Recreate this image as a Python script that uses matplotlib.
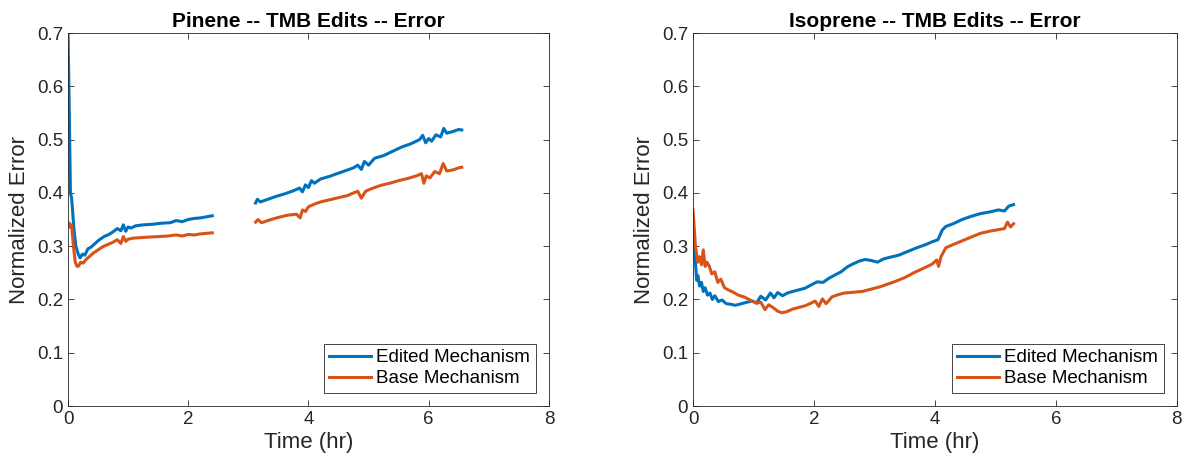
import matplotlib.pyplot as plt

plt.rcParams['font.family'] = ['Liberation Sans', 'DejaVu Sans']

# Pinene -- edited mechanism (two segments with gap)
pin_t_ed1 = [0.0, 0.02, 0.04, 0.06, 0.08, 0.10, 0.13, 0.17, 0.20, 0.24, 0.28, 0.33, 0.38,
             0.45, 0.52, 0.60, 0.68, 0.75, 0.82, 0.88, 0.92, 0.96, 1.00, 1.05, 1.12,
             1.25, 1.40, 1.55, 1.70, 1.80, 1.90, 2.00, 2.10, 2.20, 2.30, 2.40]
pin_e_ed1 = [0.70, 0.56, 0.40, 0.39, 0.36, 0.33, 0.30, 0.285, 0.278, 0.285, 0.283, 0.295, 0.298,
             0.305, 0.312, 0.318, 0.322, 0.327, 0.333, 0.329, 0.340, 0.328, 0.336, 0.334, 0.338,
             0.340, 0.341, 0.343, 0.344, 0.348, 0.346, 0.350, 0.352, 0.353, 0.355, 0.357]
pin_t_ed2 = [3.12, 3.15, 3.20, 3.30, 3.45, 3.60, 3.75, 3.85, 3.90, 3.95, 4.00, 4.05, 4.10,
             4.20, 4.35, 4.50, 4.65, 4.75, 4.82, 4.88, 4.93, 5.00, 5.10, 5.25, 5.40,
             5.55, 5.70, 5.85, 5.90, 5.95, 6.00, 6.05, 6.12, 6.20, 6.25, 6.30, 6.40, 6.50, 6.55]
pin_e_ed2 = [0.381, 0.388, 0.383, 0.387, 0.393, 0.398, 0.404, 0.409, 0.402, 0.415, 0.410, 0.423, 0.418,
             0.426, 0.431, 0.437, 0.443, 0.447, 0.452, 0.444, 0.459, 0.452, 0.465, 0.470, 0.478,
             0.486, 0.492, 0.500, 0.508, 0.494, 0.502, 0.497, 0.509, 0.505, 0.521, 0.512, 0.515, 0.519, 0.518]

# Pinene -- base mechanism
pin_t_b1 = [0.02, 0.04, 0.06, 0.09, 0.12, 0.15, 0.18, 0.21, 0.25, 0.30, 0.35, 0.42, 0.50,
            0.58, 0.66, 0.74, 0.82, 0.88, 0.92, 0.96, 1.00, 1.08, 1.20, 1.35, 1.50,
            1.65, 1.80, 1.90, 2.00, 2.10, 2.20, 2.30, 2.40]
pin_e_b1 = [0.343, 0.335, 0.340, 0.30, 0.27, 0.262, 0.263, 0.270, 0.268, 0.275, 0.280, 0.287, 0.293,
            0.299, 0.303, 0.307, 0.312, 0.305, 0.318, 0.309, 0.313, 0.315, 0.316, 0.317, 0.318,
            0.319, 0.321, 0.319, 0.322, 0.321, 0.323, 0.324, 0.325]
pin_t_b2 = [3.12, 3.16, 3.22, 3.35, 3.50, 3.65, 3.80, 3.86, 3.90, 3.95, 4.00, 4.10, 4.20,
            4.35, 4.50, 4.65, 4.75, 4.82, 4.88, 4.95, 5.05, 5.20, 5.35, 5.50, 5.65,
            5.80, 5.88, 5.92, 5.96, 6.02, 6.10, 6.18, 6.24, 6.30, 6.40, 6.50, 6.55]
pin_e_b2 = [0.345, 0.350, 0.344, 0.349, 0.354, 0.358, 0.360, 0.353, 0.368, 0.365, 0.374, 0.379, 0.383,
            0.387, 0.391, 0.395, 0.400, 0.403, 0.390, 0.403, 0.408, 0.414, 0.418, 0.423, 0.427,
            0.432, 0.436, 0.418, 0.432, 0.428, 0.440, 0.436, 0.455, 0.441, 0.443, 0.447, 0.448]

# Isoprene -- edited mechanism
iso_t_ed = [0.0, 0.02, 0.04, 0.06, 0.08, 0.11, 0.14, 0.17, 0.20, 0.24, 0.28, 0.32, 0.36,
            0.42, 0.48, 0.55, 0.62, 0.70, 0.80, 0.90, 0.98, 1.05, 1.12, 1.20, 1.28,
            1.34, 1.40, 1.48, 1.56, 1.65, 1.75, 1.85, 1.95, 2.05, 2.15, 2.25, 2.35,
            2.45, 2.55, 2.65, 2.75, 2.85, 2.95, 3.05, 3.15, 3.25, 3.40, 3.55, 3.70,
            3.85, 3.95, 4.05, 4.12, 4.18, 4.30, 4.45, 4.60, 4.75, 4.90, 5.05, 5.15, 5.22, 5.30]
iso_e_ed = [0.345, 0.30, 0.27, 0.236, 0.245, 0.225, 0.232, 0.215, 0.222, 0.208, 0.212, 0.200, 0.207,
            0.196, 0.199, 0.192, 0.191, 0.189, 0.192, 0.195, 0.197, 0.193, 0.206, 0.199, 0.212,
            0.203, 0.213, 0.207, 0.212, 0.215, 0.218, 0.221, 0.227, 0.233, 0.232, 0.240, 0.246,
            0.252, 0.261, 0.267, 0.272, 0.275, 0.273, 0.270, 0.276, 0.279, 0.283, 0.290, 0.297,
            0.303, 0.308, 0.312, 0.330, 0.337, 0.342, 0.350, 0.356, 0.361, 0.364, 0.368, 0.366, 0.375, 0.378]

# Isoprene -- base mechanism
iso_t_b = [0.0, 0.02, 0.04, 0.06, 0.08, 0.11, 0.14, 0.17, 0.20, 0.23, 0.27, 0.31, 0.36,
           0.41, 0.46, 0.52, 0.58, 0.66, 0.75, 0.86, 0.96, 1.06, 1.12, 1.19, 1.25,
           1.32, 1.40, 1.47, 1.55, 1.65, 1.75, 1.85, 1.95, 2.02, 2.08, 2.14, 2.20,
           2.30, 2.40, 2.50, 2.60, 2.70, 2.80, 2.90, 3.00, 3.10, 3.20, 3.35, 3.50,
           3.65, 3.80, 3.95, 4.03, 4.06, 4.10, 4.18, 4.30, 4.45, 4.60, 4.75, 4.90,
           5.05, 5.15, 5.20, 5.25, 5.30]
iso_e_b = [0.368, 0.335, 0.30, 0.285, 0.270, 0.280, 0.265, 0.293, 0.262, 0.270, 0.262, 0.248, 0.252,
           0.232, 0.238, 0.222, 0.218, 0.214, 0.208, 0.204, 0.198, 0.193, 0.195, 0.181, 0.190,
           0.185, 0.178, 0.175, 0.177, 0.182, 0.185, 0.188, 0.193, 0.197, 0.187, 0.201, 0.192,
           0.205, 0.209, 0.212, 0.213, 0.214, 0.215, 0.218, 0.221, 0.224, 0.228, 0.234, 0.241,
           0.250, 0.258, 0.266, 0.274, 0.262, 0.280, 0.297, 0.303, 0.310, 0.317, 0.324, 0.328,
           0.331, 0.333, 0.345, 0.336, 0.342]

blue = '#0072BD'
orange = '#D95319'
dark = '#262626'

fig = plt.figure(figsize=(11.83, 4.69), dpi=100)
ax1 = fig.add_axes([0.0575, 0.1343, 0.4065, 0.7953])
ax2 = fig.add_axes([0.5858, 0.1343, 0.4090, 0.7953])


def style(ax, title):
    ax.set_xlim(0, 8)
    ax.set_ylim(0, 0.7)
    ax.set_xticks([0, 2, 4, 6, 8])
    ax.set_yticks([0, 0.1, 0.2, 0.3, 0.4, 0.5, 0.6, 0.7])
    ax.set_yticklabels(['0', '0.1', '0.2', '0.3', '0.4', '0.5', '0.6', '0.7'])
    ax.tick_params(direction='in', top=True, right=True, labelsize=13.5,
                   colors=dark, length=4, width=0.6)
    for s in ax.spines.values():
        s.set_color(dark)
        s.set_linewidth(0.6)
    ax.set_xlabel('Time (hr)', fontsize=16, color=dark, labelpad=3)
    ax.set_ylabel('Normalized Error', fontsize=16, color=dark, labelpad=5)
    ax.set_title(title, fontsize=15, fontweight='bold', pad=4)
    leg = ax.legend(loc='lower right', fontsize=13.5, fancybox=False, framealpha=1,
                    edgecolor=dark, borderaxespad=0.7, handlelength=2.2,
                    handletextpad=0.3, borderpad=0.3, labelspacing=0.2)
    leg.get_frame().set_linewidth(0.6)


ax1.plot(pin_t_ed1, pin_e_ed1, color=blue, lw=2.2, label='Edited Mechanism')
ax1.plot(pin_t_b1, pin_e_b1, color=orange, lw=2.2, label='Base Mechanism')
ax1.plot(pin_t_ed2, pin_e_ed2, color=blue, lw=2.2)
ax1.plot(pin_t_b2, pin_e_b2, color=orange, lw=2.2)
style(ax1, 'Pinene -- TMB Edits -- Error')

ax2.plot(iso_t_ed, iso_e_ed, color=blue, lw=2.2, label='Edited Mechanism')
ax2.plot(iso_t_b, iso_e_b, color=orange, lw=2.2, label='Base Mechanism')
style(ax2, 'Isoprene -- TMB Edits -- Error')

fig.savefig('out.png', dpi=100)
